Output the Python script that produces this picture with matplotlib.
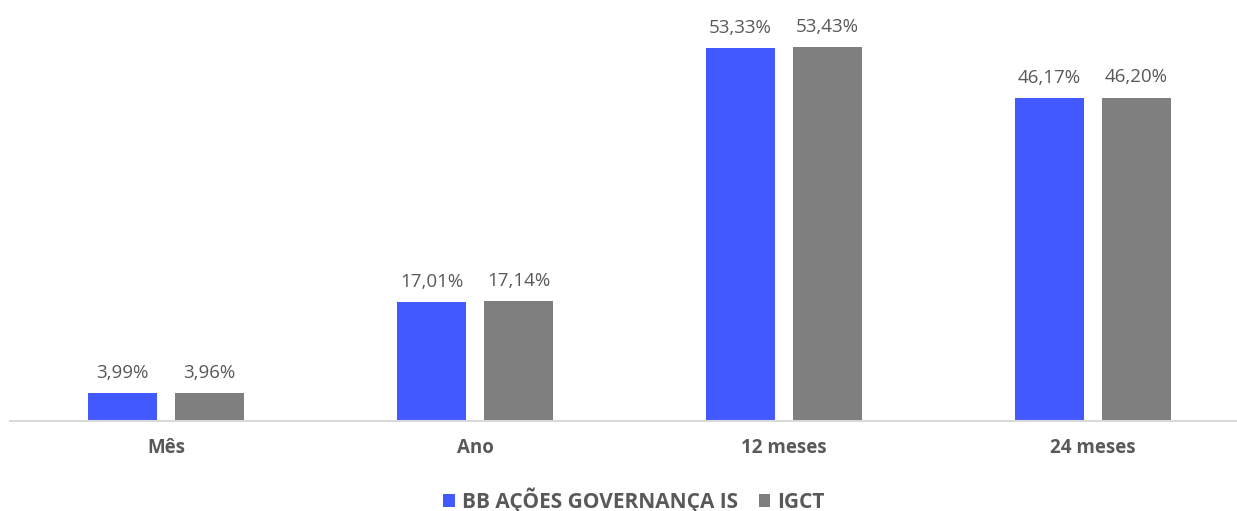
import matplotlib.pyplot as plt
import numpy as np

plt.rcParams['font.family'] = ['Open Sans', 'DejaVu Sans']

categorias = ['Mês', 'Ano', '12 meses', '24 meses']
fundo = [3.99, 17.01, 53.33, 46.17]
indice = [3.96, 17.14, 53.43, 46.20]
series = ['BB AÇÕES GOVERNANÇA IS', 'IGCT']
cores = ['#4159FF', '#7F7F7F']

fig = plt.figure(figsize=(12.37, 5.11), dpi=100)
ax = fig.add_axes([10 / 1237, 90 / 511, 1227 / 1237, 421 / 511])

x = np.arange(len(categorias))
w = 0.223
off = 0.141
for vals, d, cor, nome in [(fundo, -off, cores[0], series[0]), (indice, off, cores[1], series[1])]:
    barras = ax.bar(x + d, vals, w, color=cor, label=nome)
    for b, v in zip(barras, vals):
        ax.annotate(f'{v:.2f}%'.replace('.', ','), (b.get_x() + b.get_width() / 2, v),
                    xytext=(0, 8), textcoords='offset points', ha='center', va='bottom',
                    fontsize=13.5, color='#595959')

ax.set_xlim((10 - 166) / 309, (1237 - 166) / 309)
ax.set_ylim(0, 421 / 7.0)
ax.set_xticks(x)
ax.set_xticklabels(categorias, fontsize=13.5, fontweight='bold', color='#595959')
ax.tick_params(axis='x', length=0, pad=12)
ax.set_yticks([])
for s in ['top', 'right', 'left']:
    ax.spines[s].set_visible(False)
ax.spines['bottom'].set_color('#D9D9D9')
ax.spines['bottom'].set_linewidth(1.5)

leg = fig.legend(loc='center', bbox_to_anchor=(634 / 1237, 11 / 511), ncol=2, frameon=False,
                 handlelength=0.55, handleheight=0.55, handletextpad=0.35, columnspacing=1.0,
                 prop={'size': 15, 'weight': 'bold'})
for t in leg.get_texts():
    t.set_color('#595959')

fig.savefig('out.png', dpi=100)
